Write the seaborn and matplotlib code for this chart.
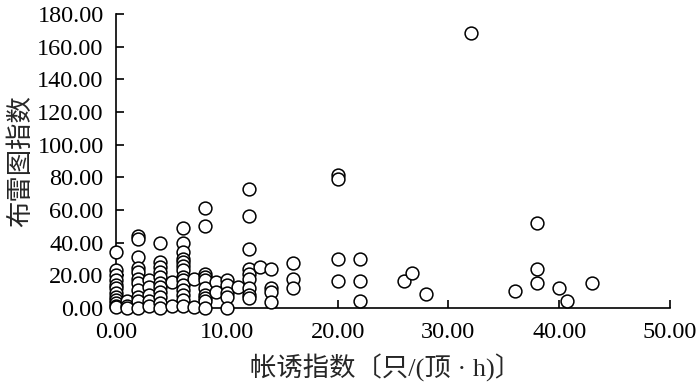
import numpy as np
import pandas as pd

import matplotlib
matplotlib.use('Agg')
import matplotlib.pyplot as plt
import seaborn as sns

# trap index (x) and Breteau index (y)
trap_index = (
    [0] * 12 + [1] * 3 + [2] * 11 + [3] * 5 + [4] * 11 + [5] * 2 + [6] * 14
    + [7] * 2 + [8] * 10 + [9] * 2 + [10] * 5 + [11] + [12] * 9 + [13]
    + [14] * 4 + [16] * 3 + [20] * 4 + [22] * 3 + [26, 26.7, 28, 32, 36]
    + [38] * 3 + [40, 40.7, 43]
)
breteau_index = (
    [34, 23, 20, 17, 14, 12, 9, 7, 5, 3, 1.5, 0.5]
    + [4, 1, 0]
    + [44, 42.5, 31.5, 24.5, 22, 18, 15, 11, 7, 4, 0]
    + [17, 13, 8, 4, 1]
    + [40, 28, 25, 22, 19, 15, 13, 10, 7, 3, 0]
    + [16, 1]
    + [49, 40, 34, 30, 28, 26, 23, 19, 17, 14, 11, 8, 5, 1]
    + [17.5, 0.5]
    + [61, 50, 21, 19, 17, 12, 8, 6, 4, 0]
    + [16, 10]
    + [17, 14, 9, 7, 0]
    + [13]
    + [73, 56, 36, 24, 21, 18, 12, 8, 6]
    + [25]
    + [24, 12, 9.5, 3.5]
    + [27.5, 18, 12]
    + [81.5, 79, 30, 16.5]
    + [30, 16.5, 4.5]
    + [16.5, 21.5, 8.5, 168, 10.5]
    + [52, 24, 15.5]
    + [12, 4.5, 15.5]
)

x_ticks = [0, 10, 20, 30, 40, 50]
y_ticks = [0, 20, 40, 60, 80, 100, 120, 140, 160, 180]

df = pd.DataFrame({'trap': trap_index, 'bi': breteau_index})

sns.set_style('ticks')
plt.rcParams['font.family'] = ['Liberation Serif', 'Noto Sans CJK SC']

fig = plt.figure(figsize=(7, 3.85), dpi=100)
ax = fig.add_axes([0.166, 0.2, 0.791, 0.764])

sns.scatterplot(data=df, x='trap', y='bi', ax=ax, s=85, marker='o',
                facecolor='white', edgecolor='black', linewidth=1.1,
                clip_on=False, zorder=3)

ax.set_xlim(0, 50)
ax.set_ylim(0, 180)
ax.set_xticks(x_ticks)
ax.set_yticks(y_ticks)
ax.set_xticklabels([f'{v:.2f}' for v in x_ticks])
ax.set_yticklabels([f'{v:.2f}' for v in y_ticks])
ax.tick_params(direction='in', length=6, width=1.2, labelsize=17.5,
               colors='black')
ax.tick_params(axis='y', pad=9)
ax.tick_params(axis='x', pad=10)

for side in ['top', 'right']:
    ax.spines[side].set_visible(False)
for side in ['left', 'bottom']:
    ax.spines[side].set_linewidth(1.2)
    ax.spines[side].set_color('black')

ax.set_xlabel('帐诱指数〔只/(顶 · h)〕', fontsize=19)
ax.xaxis.set_label_coords(0.486, -0.155)
ax.set_ylabel('布雷图指数', fontsize=19, labelpad=3)

fig.savefig('out.png', dpi=100)
